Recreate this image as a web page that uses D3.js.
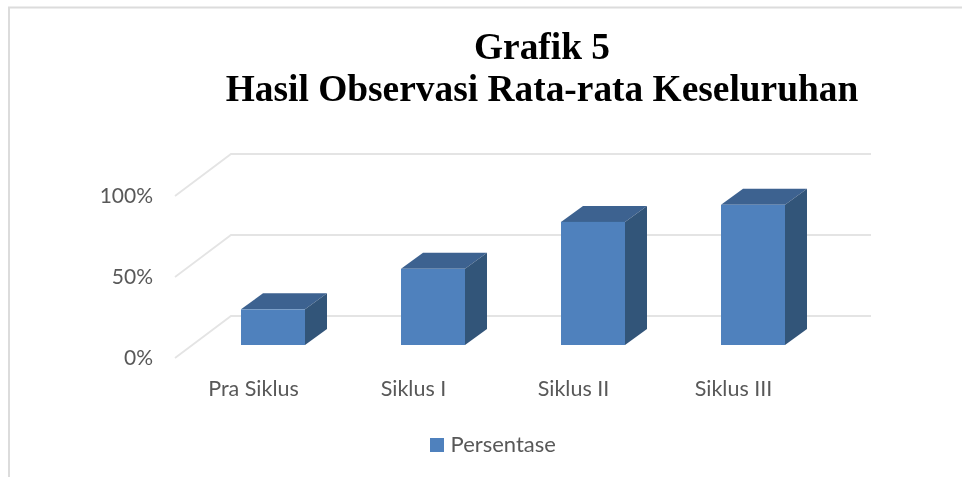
<!DOCTYPE html>
<html><head><meta charset="utf-8">
<script src="https://cdn.jsdelivr.net/npm/d3@7"></script>
<style>html,body{margin:0;padding:0;background:#fff;overflow:hidden}svg{display:block}</style>
</head><body><svg id="c" width="962" height="477"></svg>
<script>
const titleLines = ["Grafik 5", "Hasil Observasi Rata-rata Keseluruhan"];
const categories = ["Pra Siklus", "Siklus I", "Siklus II", "Siklus III"];
const values = [22, 47, 76, 86.5];
const ticks = [0, 50, 100];
const seriesName = "Persentase";

const svg = d3.select("#c");
const defs = svg.append("defs");
defs.append("filter").attr("id","soft").append("feGaussianBlur").attr("stdDeviation",0.5);
defs.append("filter").attr("id","softText").append("feGaussianBlur").attr("stdDeviation",0.3);

// chart frame (left and top only are visible)
svg.append("path").attr("d","M9,477V7.5H962").attr("fill","none").attr("stroke","#dcdcdc").attr("stroke-width",2);

const x = d3.scaleBand().domain(categories).range([193,833]).paddingInner(0.6).paddingOuter(0.3);
const yBack = d3.scaleLinear().domain([0,100]).range([316,154]);
const yBar = d3.scaleLinear().domain([0,100]).range([345,183]);
const yFront = d3.scaleLinear().domain([0,100]).range([358,196]);

const backLeft = 231, backRight = 871, frontLeft = 175;
const depthX = 22, depthY = 16;

const marks = svg.append("g").attr("filter","url(#soft)");
marks.selectAll("path.grid").data(ticks).join("path").attr("class","grid")
  .attr("d",t=>`M${frontLeft},${yFront(t)}L${backLeft},${yBack(t)}H${backRight}`)
  .attr("fill","none").attr("stroke","#e4e4e4").attr("stroke-width",1.8);

const bars = marks.selectAll("g.bar").data(categories.map((c,i)=>({c,v:values[i]}))).join("g").attr("class","bar");
bars.append("path").attr("fill","#3d6290").attr("d",d=>{
  const l=x(d.c), r=l+x.bandwidth(), t=yBar(d.v);
  return `M${l},${t}L${l+depthX},${t-depthY}H${r+depthX}L${r},${t}Z`;});
bars.append("path").attr("fill","#335479").attr("d",d=>{
  const r=x(d.c)+x.bandwidth(), t=yBar(d.v), b=yBar(0);
  return `M${r},${t}L${r+depthX},${t-depthY}V${b-depthY}L${r},${b}Z`;});
bars.append("rect").attr("fill","#4f81bd")
  .attr("x",d=>x(d.c)).attr("width",x.bandwidth())
  .attr("y",d=>yBar(d.v)).attr("height",d=>yBar(0)-yBar(d.v));

const labels = svg.append("g").attr("font-family","Lato, 'Open Sans', sans-serif").attr("fill","#595959").attr("filter","url(#softText)");
labels.selectAll("text.tick").data(ticks).join("text").attr("class","tick")
  .attr("x",153).attr("y",t=>yFront(t)+7).attr("text-anchor","end").attr("font-size",21)
  .text(t=>t+"%");
labels.selectAll("text.cat").data(categories).join("text").attr("class","cat")
  .attr("x",c=>x(c)+x.bandwidth()/2-19.5).attr("y",396).attr("text-anchor","middle").attr("font-size",21.5)
  .text(c=>c);

svg.append("rect").attr("x",430).attr("y",438).attr("width",14).attr("height",14).attr("fill","#4f81bd");
labels.append("text").attr("x",450.5).attr("y",452).attr("font-size",22).text(seriesName);

svg.append("g").attr("font-family","'Liberation Serif', serif").attr("font-weight","bold").attr("font-size",37.4)
  .attr("fill","#000").attr("text-anchor","middle").attr("filter","url(#softText)")
  .selectAll("text").data(titleLines).join("text")
  .attr("x",542).attr("y",(d,i)=>[59,101][i]).text(d=>d);
</script></body></html>
